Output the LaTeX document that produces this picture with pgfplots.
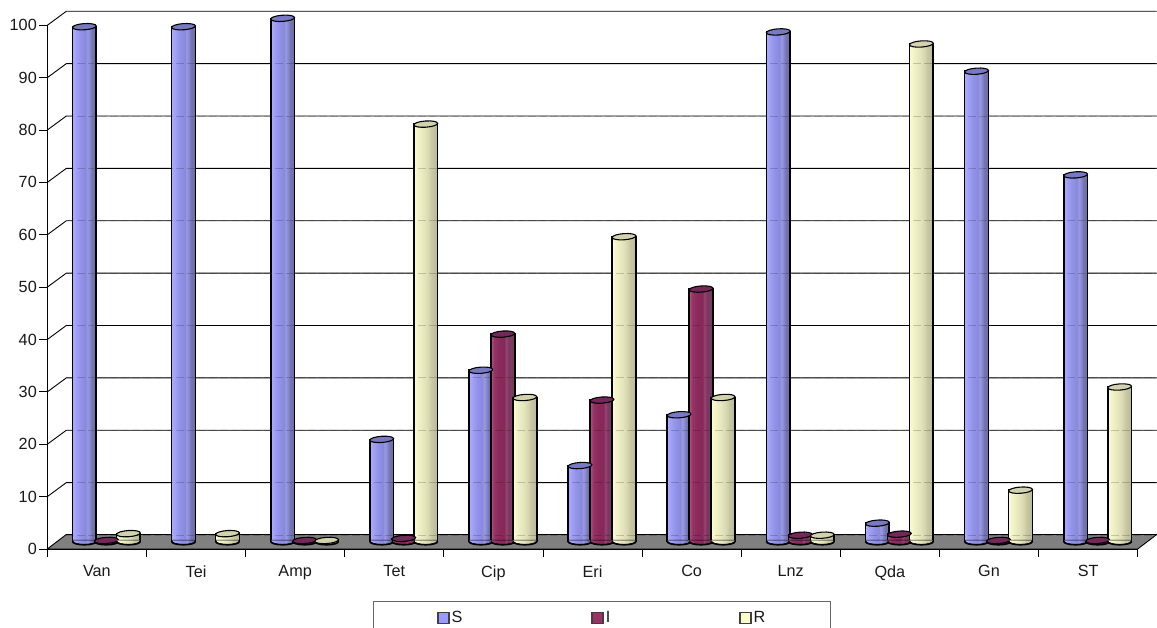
\documentclass[border=0pt]{standalone}
\usepackage{fontspec}
\setmainfont{Liberation Sans}
\usepackage{pgfplots}
\usepackage{pgfplotstable}
\usetikzlibrary{calc}
\pgfplotsset{compat=1.18}

% Susceptibility percentages per antibiotic; a category with no bar has no row
\pgfplotstableread{
x v
0 98.3
1 98.3
2 99.9
3 19.5
4 32.7
5 14.5
6 24.2
7 97.3
8 3.5
9 89.8
10 70.0
}\tableS
\pgfplotstableread{
x v
0 0.2
2 0.2
3 0.6
4 39.6
5 27.0
6 48.2
7 1.2
8 1.4
9 0.2
10 0.2
}\tableI
\pgfplotstableread{
x v
0 1.5
1 1.5
2 0.2
3 79.7
4 27.5
5 58.2
6 27.5
7 1.2
8 95.0
9 9.8
10 29.5
}\tableR

\definecolor{legS}{HTML}{9999FF}
\definecolor{legI}{HTML}{993366}
\definecolor{legR}{HTML}{FFFFCC}
\definecolor{topS}{HTML}{7878C4}
\definecolor{topI}{HTML}{74285A}
\definecolor{topR}{HTML}{D2D2AC}

% Banded cylinder bodies: light on the left, darker toward the right
\pgfdeclarehorizontalshading{cylS}{100bp}{
  color(0bp)=(rgb,255:red,172;green,172;blue,255);
  color(25bp)=(rgb,255:red,172;green,172;blue,255);
  color(32bp)=(rgb,255:red,160;green,160;blue,246);
  color(42bp)=(rgb,255:red,146;green,146;blue,232);
  color(53bp)=(rgb,255:red,136;green,136;blue,220);
  color(56bp)=(rgb,255:red,154;green,154;blue,226);
  color(60bp)=(rgb,255:red,142;green,142;blue,216);
  color(63bp)=(rgb,255:red,128;green,128;blue,198);
  color(66bp)=(rgb,255:red,116;green,116;blue,178);
  color(75bp)=(rgb,255:red,108;green,108;blue,166);
  color(100bp)=(rgb,255:red,108;green,108;blue,166)}
\pgfdeclarehorizontalshading{cylI}{100bp}{
  color(0bp)=(rgb,255:red,178;green,80;blue,130);
  color(25bp)=(rgb,255:red,178;green,80;blue,130);
  color(32bp)=(rgb,255:red,148;green,50;blue,100);
  color(42bp)=(rgb,255:red,138;green,42;blue,92);
  color(53bp)=(rgb,255:red,134;green,40;blue,90);
  color(57bp)=(rgb,255:red,150;green,70;blue,112);
  color(62bp)=(rgb,255:red,128;green,52;blue,96);
  color(66bp)=(rgb,255:red,118;green,62;blue,96);
  color(75bp)=(rgb,255:red,106;green,58;blue,88);
  color(100bp)=(rgb,255:red,106;green,58;blue,88)}
\pgfdeclarehorizontalshading{cylR}{100bp}{
  color(0bp)=(rgb,255:red,252;green,252;blue,208);
  color(25bp)=(rgb,255:red,252;green,252;blue,208);
  color(34bp)=(rgb,255:red,242;green,242;blue,200);
  color(48bp)=(rgb,255:red,228;green,228;blue,188);
  color(56bp)=(rgb,255:red,216;green,216;blue,176);
  color(62bp)=(rgb,255:red,200;green,200;blue,164);
  color(75bp)=(rgb,255:red,184;green,184;blue,152);
  color(100bp)=(rgb,255:red,184;green,184;blue,152)}

% Elliptic end caps of the cylinders
\pgfdeclareplotmark{cyltop}{%
  \pgftransformrotate{4}%
  \pgfpathellipse{\pgfpointorigin}{\pgfqpoint{11.9pt}{0pt}}{\pgfqpoint{0pt}{3.1pt}}%
  \pgfusepathqfillstroke}
\newcommand{\basemark}[1]{%
  \pgfdeclareplotmark{cylbase#1}{%
    \path[shading=cyl#1] (-11.4pt,1.4pt) -- (11.4pt,1.4pt) -- (11.4pt,0.4pt)
      arc[start angle=0,end angle=-180,x radius=11.4pt,y radius=3.2pt] -- cycle;
    \draw[line width=1.6pt,black] (-11.9pt,0pt)
      arc[start angle=180,end angle=360,x radius=11.9pt,y radius=3.3pt];}}
\basemark{S}\basemark{I}\basemark{R}

% One series of cylinders: one shaded body per category, bottom cap, top cap
\newcommand{\cylseries}[4]{%
  \pgfplotsinvokeforeach{0,...,10}{
    \addplot[forget plot,ybar,bar width=23.8pt,bar shift=0pt,yshift=7.5pt,draw=black,
      line width=1.6pt,shading=cyl#3,restrict x to domain=##1.1:##1.9]
      table[x expr=\thisrow{x}+0.5+#2,y=v]{#1};
  }
  \addplot[forget plot,only marks,yshift=7.5pt,mark=cylbase#3]
    table[x expr=\thisrow{x}+0.5+#2,y expr=0]{#1};
  \addplot[forget plot,only marks,yshift=7.5pt,mark=cyltop,
    mark options={fill=#4,draw=black,line width=1.1pt}]
    table[x expr=\thisrow{x}+0.5+#2,y=v]{#1};
}

\begin{document}
\begin{tikzpicture}[x=1pt,y=1pt]
\path[use as bounding box] (0,0) rectangle (1157,628);
\begin{axis}[
  at={(47.3pt,79pt)},anchor=south west,
  scale only axis,width=1090.4pt,height=523.7pt,
  xmin=0,xmax=11,ymin=0,ymax=100,
  clip=false,
  axis x line*=bottom,axis y line*=left,
  axis line style={black,line width=0.9pt},
  tick align=outside,
  major tick length=8pt,minor tick length=8pt,
  ytick={0,10,...,100},
  xtick={0.5,1.5,...,10.5},
  xticklabels={Van,Tei,Amp,Tet,Cip,Eri,Co,Lnz,Qda,Gn,ST},
  minor xtick={0,1,...,11},
  major x tick style={draw=none},
  minor x tick style={black,line width=0.8pt},
  y tick style={black,line width=0.8pt},
  tick label style={font=\fontsize{16.2}{18}\selectfont,text=black!90},
  /pgf/number format/assume math mode=true,
  xticklabel style={yshift=-5pt},
  yticklabel style={xshift=1pt},
  legend style={
    at={(axis description cs:0.509,-0.0993)},anchor=north,
    draw=black!60,line width=0.9pt,
    inner xsep=63.5pt,inner ysep=8pt,
    font=\fontsize{16.2}{18}\selectfont,
    text=black!90,
    /tikz/every even column/.append style={column sep=127pt}},
  legend columns=3,
  legend cell align=left,
]
% Floor of the chart box
\draw[black,line width=0.9pt,fill=black!50] (axis cs:0,0) -- (axis cs:11,0)
  -- ++(19pt,14.5pt) -- ($(axis cs:0,0)+(19pt,14.5pt)$) -- cycle;
\draw[black,line width=1.4pt] ($(axis cs:0,0)+(19pt,14.5pt)$) -- ++(1090.4pt,0pt);
% Wall gridlines with their slanted returns to the value axis
\pgfplotsinvokeforeach{10,20,...,100}{
  \draw[black,line width=0.9pt] (axis cs:0,#1) -- ++(19pt,14pt) -- ++(1090.4pt,0pt);
}
\cylseries{\tableS}{-0.1261}{S}{topS}
\cylseries{\tableI}{0.0958}{I}{topI}
\cylseries{\tableR}{0.3178}{R}{topR}
% Faint wall lines showing through the translucent cylinders
\pgfplotsinvokeforeach{0,10,20,...,90}{
  \draw[black,opacity=0.18,line width=0.9pt,dash pattern=on 8pt off 3pt]
    ($(axis cs:0,#1)+(19pt,14pt)$) -- ++(1090.4pt,0pt);
}
\addlegendimage{legend image code/.code={\draw[black!75,line width=1.3pt,fill=legS] (0pt,-5.5pt) rectangle (11pt,5.5pt);}}
\addlegendentry{S}
\addlegendimage{legend image code/.code={\draw[black!75,line width=1.3pt,fill=legI] (0pt,-5.5pt) rectangle (11pt,5.5pt);}}
\addlegendentry{I}
\addlegendimage{legend image code/.code={\draw[black!75,line width=1.3pt,fill=legR] (0pt,-5.5pt) rectangle (11pt,5.5pt);}}
\addlegendentry{R}
\end{axis}
\end{tikzpicture}
\end{document}
